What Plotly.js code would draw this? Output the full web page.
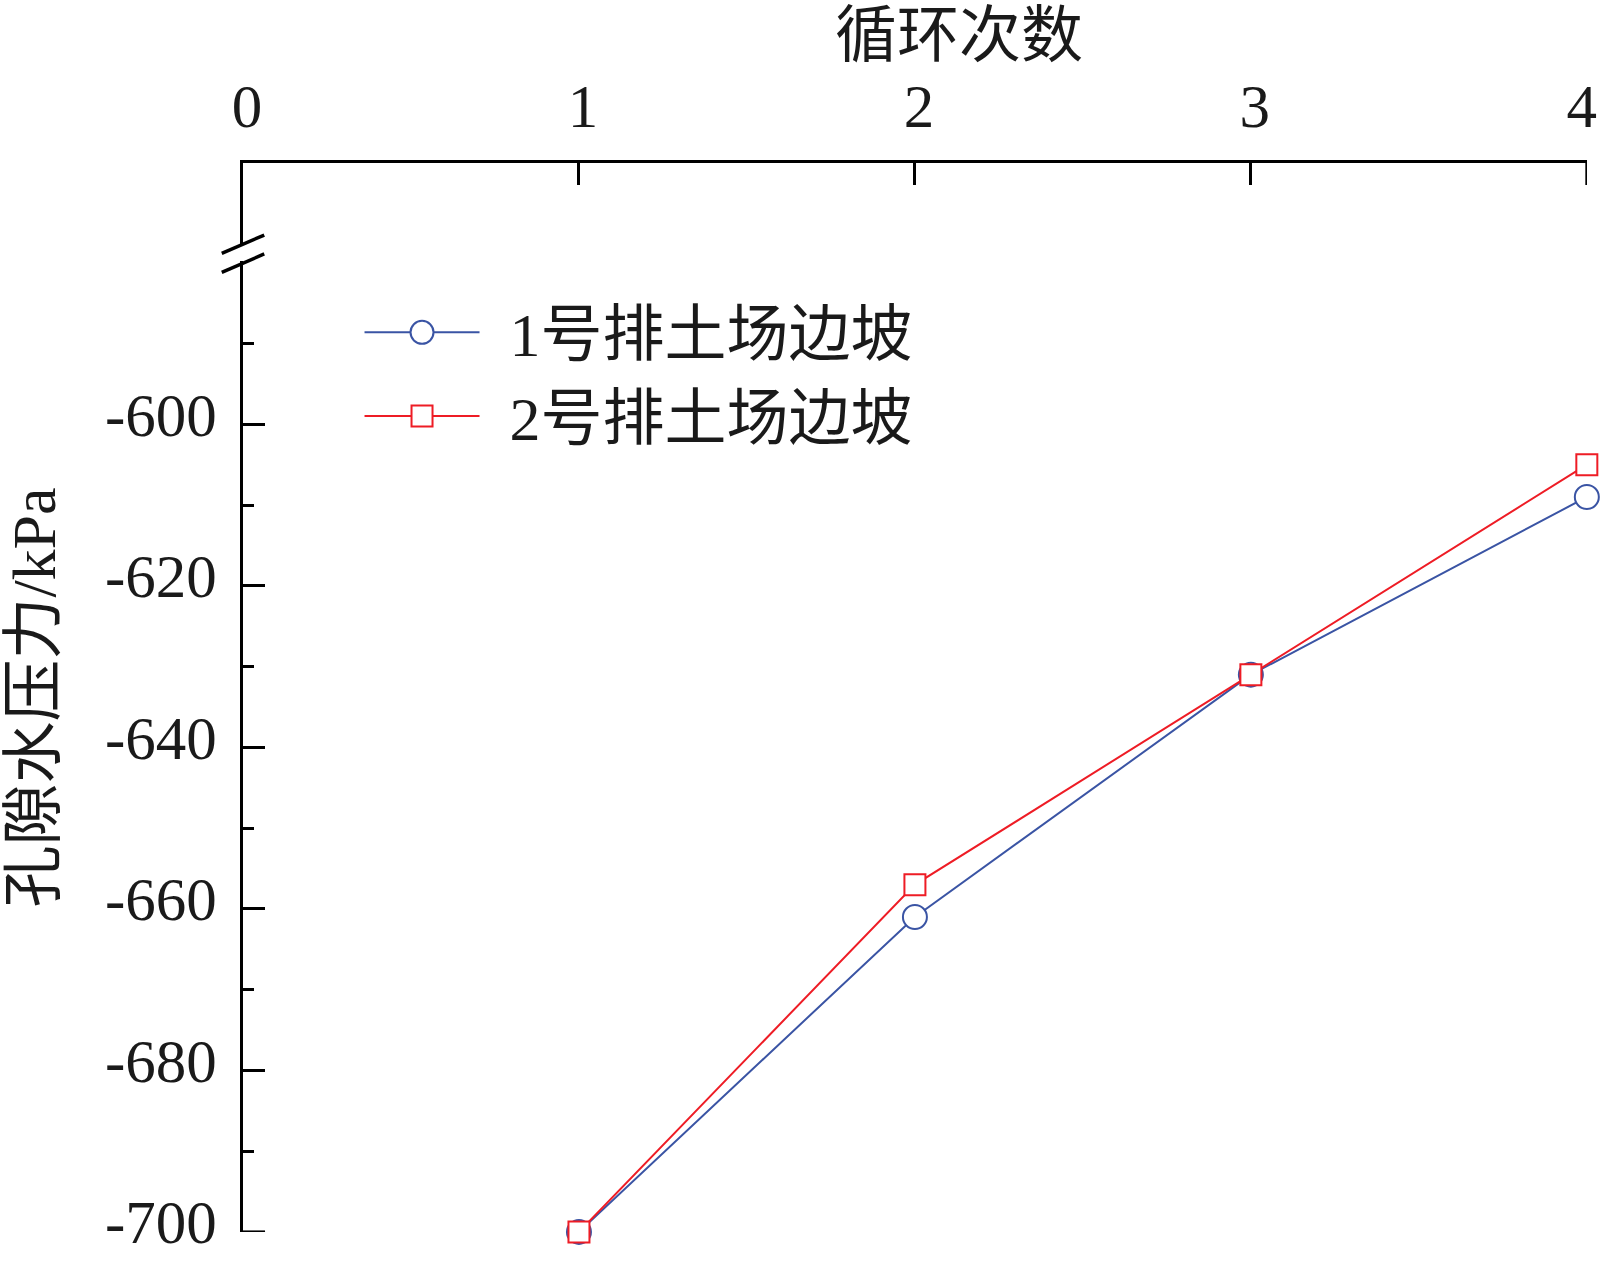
<!DOCTYPE html>
<html>
<head>
<meta charset="utf-8">
<script src="https://cdn.plot.ly/plotly-3.0.1.min.js"></script>
<style>html,body{margin:0;padding:0;background:#fff;}#chart{width:1600px;height:1265px;}</style>
</head>
<body>
<div id="chart"></div>
<script>
// Data
const cycles = [1, 2, 3, 4];
const slope1 = [-700, -661, -631, -609];   // 1号排土场边坡
const slope2 = [-700, -657, -631, -605];   // 2号排土场边坡
const seriesNames = ['1号排土场边坡', '2号排土场边坡'];
const xTickVals = [0, 1, 2, 3, 4];
const xTickText = ['0', '1', '2', '3', '4'];
const yTickVals = [-700, -680, -660, -640, -620, -600];
const yTickText = ['-700', '-680', '-660', '-640', '-620', '-600'];
const yMinorVals = [-690, -670, -650, -630, -610, -590];
const xTitle = '循环次数';
const yTitle = '孔隙水压力/kPa';

const FONT = '"Liberation Serif", "Times New Roman", "Noto Sans CJK SC", serif';
const BLUE = '#3A54A4';
const RED = '#EE1C25';

const traces = [
  {
    x: cycles, y: slope1, name: seriesNames[0], type: 'scatter', mode: 'lines+markers',
    line: {color: BLUE, width: 2},
    marker: {symbol: 'circle', size: 24, color: '#ffffff', line: {color: BLUE, width: 2}},
    cliponaxis: false
  },
  {
    x: cycles, y: slope2, name: seriesNames[1], type: 'scatter', mode: 'lines+markers',
    line: {color: RED, width: 2},
    marker: {symbol: 'square', size: 21, color: '#ffffff', line: {color: RED, width: 2}},
    cliponaxis: false
  }
];

const layout = {
  width: 1600, height: 1265,
  paper_bgcolor: '#ffffff', plot_bgcolor: '#ffffff',
  margin: {l: 243, r: 13, t: 163, b: 33, pad: 0},
  font: {family: FONT, size: 61, color: '#1a1a1a'},
  showlegend: true,
  title: {
    text: xTitle, font: {family: FONT, size: 62, color: '#1a1a1a'},
    xref: 'paper', x: 0.5327, xanchor: 'center',
    yref: 'container', y: 0.972, yanchor: 'middle'
  },
  xaxis: {
    side: 'top', range: [0, 4.0005], tickmode: 'array', tickvals: xTickVals, ticktext: xTickText,
    ticks: 'inside', ticklen: 22, tickwidth: 3, tickcolor: '#000',
    showline: true, linecolor: '#000', linewidth: 3, showgrid: false, zeroline: false,
    tickfont: {family: FONT, size: 61, color: '#1a1a1a'}, ticklabelstandoff: 9,
    ticklabelshift: 4, ticklabeloverflow: 'allow',
    automargin: false
  },
  yaxis: {
    range: [-700.01, -567.65], tickmode: 'array', tickvals: yTickVals, ticktext: yTickText,
    ticks: 'inside', ticklen: 22, tickwidth: 3, tickcolor: '#000',
    minor: {tickmode: 'array', tickvals: yMinorVals, ticks: 'inside', ticklen: 11, tickwidth: 3, tickcolor: '#000', showgrid: false},
    showline: true, linecolor: '#000', linewidth: 3, showgrid: false, zeroline: false,
    tickfont: {family: FONT, size: 61, color: '#1a1a1a'}, ticklabelstandoff: 11,
    ticklabelshift: -10, ticklabeloverflow: 'allow',
    title: {text: yTitle, font: {family: FONT, size: 62, color: '#1a1a1a'}, standoff: 44},
    automargin: false
  },
  legend: {
    x: 0.0867, y: 0.8854, xanchor: 'left', yanchor: 'top',
    bgcolor: 'rgba(0,0,0,0)', borderwidth: 0,
    font: {family: FONT, size: 62, color: '#1a1a1a'},
    itemwidth: 115, tracegroupgap: 0
  },
  shapes: [
    // axis break: white gap on the y axis line
    {type: 'rect', xref: 'paper', yref: 'paper', x0: -0.006, x1: 0.006, y0: 0.9083, y1: 0.9224,
     fillcolor: '#ffffff', line: {width: 0}, layer: 'above'},
    // break slashes
    {type: 'line', xref: 'paper', yref: 'paper', x0: -0.0158, y0: 0.9155, x1: 0.0158, y1: 0.9326,
     line: {color: '#000', width: 3.5}, layer: 'above'},
    {type: 'line', xref: 'paper', yref: 'paper', x0: -0.0158, y0: 0.8977, x1: 0.0158, y1: 0.9149,
     line: {color: '#000', width: 3.5}, layer: 'above'},
    // end ticks that Plotly drops at the axis ends
    {type: 'line', xref: 'paper', yref: 'y', x0: -0.001, x1: 0.0164, y0: yTickVals[0], y1: yTickVals[0],
     line: {color: '#000', width: 3}, layer: 'above'},
    {type: 'line', xref: 'x', yref: 'paper', x0: xTickVals[xTickVals.length - 1], x1: xTickVals[xTickVals.length - 1],
     y0: 1.001, y1: 1 - 0.0206, line: {color: '#000', width: 3}, layer: 'above'}
  ]
};

function appendTransform(el, t) {
  const cur = el.getAttribute('transform') || '';
  el.setAttribute('transform', (cur + ' ' + t).trim());
}

Plotly.newPlot('chart', traces, layout, {staticPlot: true, displayModeBar: false}).then(function (gd) {
  // let the legend text extend past Plotly's computed box
  const legend = gd.querySelector('.legend');
  if (legend) {
    legend.removeAttribute('clip-path');
    legend.querySelectorAll('[clip-path]').forEach(function (el) { el.removeAttribute('clip-path'); });
  }
  // Legend symbols in the reference are full-size markers, and the text sits further right
  const items = gd.querySelectorAll('.legend .traces');
  items.forEach(function (item, i) {
    const pt = item.querySelector('.legendpoints path.scatterpts');
    if (pt) {
      if (i === 0) {
        const r = 11.5;
        pt.setAttribute('d', 'M' + r + ',0A' + r + ',' + r + ' 0 1,1 0,-' + r + 'A' + r + ',' + r + ' 0 0,1 ' + r + ',0Z');
      } else {
        const h = 10.5;
        pt.setAttribute('d', 'M' + h + ',' + h + 'H-' + h + 'V-' + h + 'H' + h + 'Z');
      }
    }
    const txt = item.querySelector('.legendtext');
    if (txt) appendTransform(txt, 'translate(25,0)');
  });
  // the last top tick label sits slightly left of its tick in the reference
  gd.querySelectorAll('.xtick text').forEach(function (t) {
    if (t.textContent === xTickText[xTickText.length - 1]) appendTransform(t, 'translate(-9,0)');
  });
});
</script>
</body>
</html>
